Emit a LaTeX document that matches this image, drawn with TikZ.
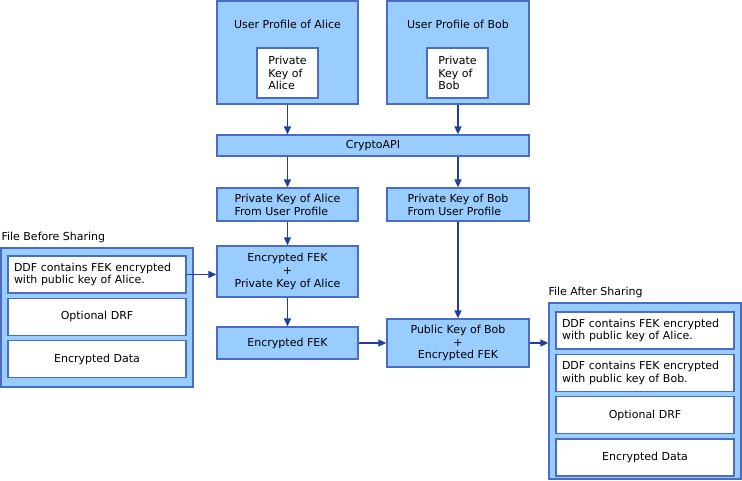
\documentclass[tikz,border=0pt]{standalone}
\usepackage{xcolor}
\usepackage{fontspec}
\setmainfont{DejaVu Sans}
\usepackage{tikz}
\usetikzlibrary{positioning, arrows.meta}
\definecolor{fill_blue}{HTML}{99CCFF}
\definecolor{line_blue}{HTML}{4A6CC4}
\definecolor{arrow_blue}{HTML}{1F3F99}
\tikzset{
    panel_style/.style={
        rectangle,            % 浅蓝色方框
        draw=line_blue,       % 边框颜色
        line width=1.3pt,     % 边框粗细
        fill=fill_blue,       % 填充颜色
        inner sep=2pt,
        align=center          % 文字居中
    },
    key_style/.style={
        rectangle,            % 白色方框
        draw=line_blue,
        line width=1.3pt,
        fill=white,
        inner sep=2pt
    },
    ddf_style/.style={
        key_style,
        minimum height=37pt,
        text width=166pt,     % 文字左对齐
        inner sep=6pt,
        align=left
    },
    row_style/.style={
        key_style,
        minimum width=178pt,
        minimum height=37pt
    },
    title_style/.style={
        inner sep=0pt         % 纯文字
    },
    arrow_style/.style={
        -{Triangle[length=8pt,width=7pt]}, % 三角形箭头
        draw=arrow_blue,
        line width=1.4pt
    }
}

\begin{document}
\begin{tikzpicture}[x=1pt, y=-1pt, node distance=4pt,
    font=\fontsize{11}{12.8}\selectfont]
    \useasboundingbox (0,0) rectangle (742,480);

    % 1. 用户配置文件
    \node[panel_style, minimum width=141pt, minimum height=103pt] (alice_prof) at (287.5,52.5) {};
    \node[title_style] (alice_title) at (287.5,24) {User Profile of Alice};
    \node[key_style, minimum width=61pt, minimum height=50pt, align=left] (alice_key) at (287.5,73) {Private\\Key of\\Alice};
    \node[panel_style, minimum width=142pt, minimum height=103pt] (bob_prof) at (458,52.5) {};
    \node[title_style] (bob_title) at (458,24) {User Profile of Bob};
    \node[key_style, minimum width=61pt, minimum height=50pt, align=left] (bob_key) at (457.5,73) {Private\\Key of\\Bob};

    % 2. CryptoAPI 与私钥
    \node[panel_style, minimum width=312pt, minimum height=21pt] (crypto) at (373,145.5) {CryptoAPI};
    \node[panel_style, minimum width=141pt, minimum height=33pt, align=left] (alice_from) at (287.5,204.5) {Private Key of Alice\\From User Profile};
    \node[panel_style, minimum width=142pt, minimum height=33pt, align=left] (bob_from) at (458,204.5) {Private Key of Bob\\From User Profile};

    % 3. 解密与重新加密
    \node[panel_style, minimum width=141pt, minimum height=51pt] (fek_priv) at (287.5,271.5) {Encrypted FEK\\+\\Private Key of Alice};
    \node[panel_style, minimum width=141pt, minimum height=32pt] (fek) at (287.5,343) {Encrypted FEK};
    \node[panel_style, minimum width=142pt, minimum height=48pt] (pub_bob) at (458,343) {Public Key of Bob\\+\\Encrypted FEK};

    % 4. 共享前的文件
    \node[panel_style, minimum width=192pt, minimum height=139pt] (before_file) at (97,317.5) {};
    \node[title_style, anchor=south west] (before_label) at ([xshift=1pt, yshift=4pt]before_file.north west) {File Before Sharing};
    \node[ddf_style] (ddf_alice1) at (97,274.5) {DDF contains FEK encrypted with public key of Alice.};
    \node[row_style, below=of ddf_alice1] (drf1) {Optional DRF};
    \node[row_style, below=of drf1] (data1) {Encrypted Data};

    % 5. 共享后的文件
    \node[panel_style, minimum width=192pt, minimum height=176pt] (after_file) at (645,391) {};
    \node[title_style, anchor=south west] (after_label) at ([yshift=4pt]after_file.north west) {File After Sharing};
    \node[ddf_style] (ddf_alice2) at (645,330.5) {DDF contains FEK encrypted with public key of Alice.};
    \node[ddf_style, below=of ddf_alice2] (ddf_bob2) {DDF contains FEK encrypted with public key of Bob.};
    \node[row_style, below=of ddf_bob2] (drf2) {Optional DRF};
    \node[row_style, below=of drf2] (data2) {Encrypted Data};

    % 6. 连线
    \draw[arrow_style] (alice_prof.south) -- (alice_prof.south |- crypto.north);
    \draw[arrow_style] (bob_prof.south) -- (bob_prof.south |- crypto.north);
    \draw[arrow_style] (crypto.south -| alice_from.north) -- (alice_from.north);
    \draw[arrow_style] (crypto.south -| bob_from.north) -- (bob_from.north);
    \draw[arrow_style] (alice_from.south) -- (fek_priv.north);
    \draw[arrow_style] (fek_priv.south) -- (fek.north);
    \draw[arrow_style] (bob_from.south) -- (pub_bob.north);
    \draw[arrow_style] (ddf_alice1.east) -- (ddf_alice1.east -| fek_priv.west);
    \draw[arrow_style] (fek.east) -- (fek.east -| pub_bob.west);
    \draw[arrow_style] (pub_bob.east) -- (pub_bob.east -| after_file.west);
\end{tikzpicture}
\end{document}
